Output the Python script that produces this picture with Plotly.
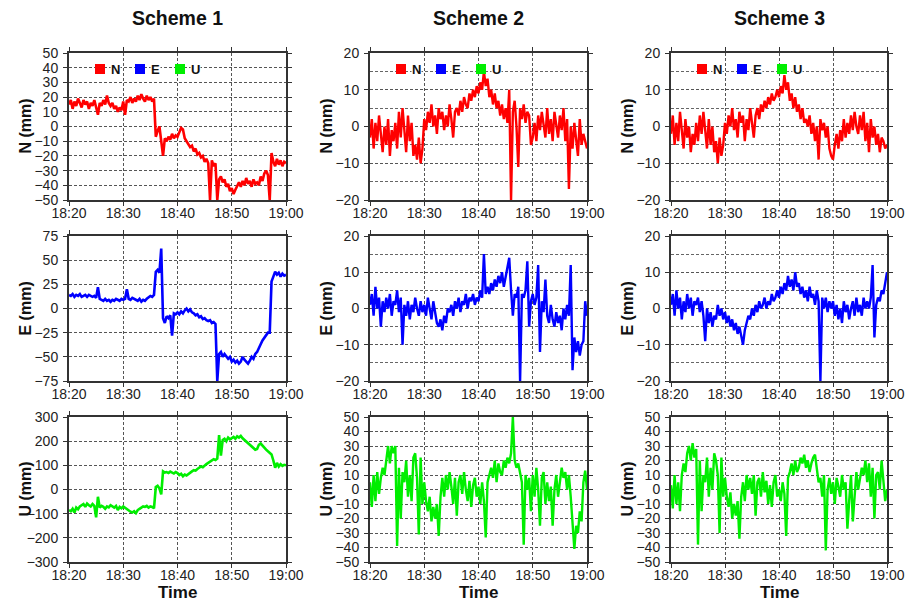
import plotly.graph_objects as go

# ---------------- data ----------------
SCHEMES = ["Scheme 1", "Scheme 2", "Scheme 3"]
COMPONENTS = ["N", "E", "U"]
TIME_TICKVALS = [0, 10, 20, 30, 40]          # minutes after 18:20
TIME_TICKTEXT = ["18:20", "18:30", "18:40", "18:50", "19:00"]
t_min = [i / 3 for i in range(121)]          # 20-second samples, 18:20 -> 19:00

S1_N = [15, 18, 12, 17, 14, 19, 16, 13, 18, 15, 17, 12, 16, 14, 18,
        12, 8, 16, 14, 18, 15, 21, 16, 14, 16, 12, 14, 10, 13, 11,
        17, 8, 18, 17, 20, 16, 19, 17, 21, 18, 22, 19, 17, 21, 18,
        20, 17, 19, -7, -3, 0, -10, -20, -8, -10, -7, -9, -5, -8, -6,
        -7, -4, -1, -2, -8, -10, -12, -14, -13, -17, -15, -19, -18, -21, -20,
        -24, -22, -25, -50, -23, -27, -25, -50, -36, -34, -38, -36, -41, -39, -44,
        -42, -46, -43, -40, -38, -41, -37, -40, -35, -39, -37, -41, -36, -39, -38,
        -40, -34, -37, -32, -30, -33, -50, -18, -24, -27, -22, -26, -23, -27, -24, -25]
S1_E = [14, 13, 15, 12, 14, 13, 15, 12, 13, 14, 12, 14, 13, 12, 13,
        11, 22, 10, 9, 8, 10, 8, 9, 7, 9, 8, 10, 9, 8, 10,
        9, 10, 20, 10, 9, 11, 10, 9, 8, 10, 7, 9, 8, 10, 12,
        13, 12, 14, 38, 40, 37, 62, -10, -15, -8, -10, -7, -28, -5, -6,
        -4, -6, -3, -5, -2, 0, -3, -1, -4, -5, -7, -6, -9, -8, -11,
        -10, -12, -13, -12, -15, -14, -16, -75, -47, -45, -50, -47, -49, -52, -50,
        -55, -53, -56, -54, -57, -55, -50, -53, -55, -57, -54, -50, -52, -47, -45,
        -40, -37, -33, -30, -28, -25, -25, 28, 33, 38, 35, 37, 33, 36, 34, 35]
S1_U = [-85, -90, -80, -95, -75, -82, -70, -65, -60, -72, -58, -65, -70, -60, -68,
        -115, -30, -75, -68, -72, -80, -70, -74, -65, -70, -75, -68, -85, -72, -78,
        -70, -76, -82, -88, -92, -95, -90, -98, -85, -80, -75, -70, -72, -68, -75,
        -70, -72, -78, 10, 15, 5, -20, 75, 70, 72, 68, 74, 70, 66, 72,
        68, 60, 65, 55, 62, 58, 65, 70, 75, 80, 78, 85, 90, 95, 92,
        100, 105, 110, 115, 120, 125, 122, 128, 225, 140, 205, 210, 200, 215, 208,
        212, 218, 210, 220, 215, 222, 212, 205, 200, 195, 185, 178, 170, 165, 168,
        185, 190, 180, 172, 165, 158, 150, 145, 120, 90, 110, 95, 105, 98, 102, 100]

S2_N = [-3, 2, -6, 1, -4, 3, -2, -7, 0, -5, 2, -8, -1, -4, 1,
        -6, 4, -3, 5, -2, -7, 3, -4, 1, -8, -5, -9, -3, -10, -6,
        2, -1, 4, 1, 6, 0, 3, -2, 5, 2, 4, -1, 3, 0, 6,
        2, -3, 4, 5, 3, 7, 4, 8, 6, 5, 9, 7, 10, 8, 11,
        9, 12, 10, 15, 11, 13, 8, 10, 6, 9, 5, 7, 3, 6, 2,
        5, 1, 10, -20, 4, 7, 0, -11, 5, 2, 6, 1, 4, 3, -5,
        -3, 1, -4, 3, -1, 4, 0, -3, 5, -2, 2, -4, 4, 0, -3,
        3, -1, 5, -4, 2, -17, 0, -6, 1, -3, -8, 2, -5, -2, -4, -6]
S2_E = [1, 4, -2, 6, 0, 3, -5, 2, -1, 3, 0, 4, -2, 2, 1,
        5, -1, 3, -10, 1, -2, 2, -3, 1, -1, 3, 0, -2, 2, -1,
        1, -2, 3, 0, -3, 2, -1, -4, -5, -3, -6, -2, -4, 0, -1,
        1, -2, 2, 0, 3, -1, 2, 1, 4, 0, 3, 2, 4, 1, 3,
        2, 5, 3, 15, 4, 6, 4, 7, 5, 8, 6, 9, 7, 10, 6,
        9, 11, 14, 5, -2, 4, 3, 6, -20, 4, 3, 5, 13, -5, 2,
        4, 1, 3, 12, -12, 2, -1, 8, -2, -4, 1, -3, -5, -1, -4,
        -2, -6, 0, -3, 1, -2, 12, -17, -8, -12, -9, -13, -10, -9, 2, -2]
S2_U = [5, -12, 10, -8, 12, -3, 8, 15, 10, 22, 30, 18, 30, 25, 30,
        -39, 15, -20, 12, 5, 20, -5, 10, -8, 22, 25, 8, -31, 22, -10,
        5, -8, -15, -5, -22, -12, -20, -10, -32, -5, 8, -5, 10, 0, 12,
        2, -10, 8, -18, 5, 10, -3, 12, 0, -8, 6, -12, 3, 8, -5,
        2, -10, 5, -8, -33, 5, 10, 15, 8, 20, 5, 18, 12, 10, 20,
        15, 22, 18, 25, 50, 20, 15, 18, 12, 5, -38, 10, 0, 8, -15,
        10, -5, 15, 0, -25, 8, 12, -10, 5, -8, 2, -25, 0, 10, -5,
        5, 15, 8, 12, 0, 10, -5, -20, -41, -25, -30, -15, -22, 5, 13, 0]

S3_N = [-2, 3, -5, 1, -4, 4, -1, -6, 2, -3, 0, -7, -2, -5, 1,
        -4, 3, -2, 4, -1, -6, 2, -5, 0, -7, -4, -10, -3, -8, -5,
        1, -2, 3, 0, 5, -1, 2, -3, 4, 1, 3, -4, 2, -1, 5,
        1, -3, 3, 5, 2, 6, 4, 7, 5, 8, 6, 9, 7, 8, 10,
        8, 11, 9, 14, 10, 12, 7, 9, 5, 8, 4, 6, 2, 5, 1,
        2, 0, 3, -2, 1, -4, 0, -9, 2, -1, 1, -3, 0, -6, -8,
        -9, -5, -2, -6, -1, -4, 2, -3, 1, -2, 3, -1, 4, 0, -2,
        3, -1, 4, -4, 1, -7, 2, -3, 0, -5, -2, -7, -3, -4, -6, -5]
S3_E = [1, 4, -2, 5, 0, 3, -3, 2, -1, 4, 0, 3, -2, 2, 1,
        3, -1, 2, -2, -9, 0, -4, -1, -5, -2, -3, 1, -2, 0, -3,
        -1, -4, -2, -5, -3, -6, -4, -7, -5, -8, -10, -6, -4, -2, -3,
        0, -2, 1, -1, 2, 0, 1, 3, 0, 2, 1, 4, 2, 3, 5,
        3, 6, 4, 7, 5, 9, 6, 8, 5, 10, 6, 7, 4, 6, 3,
        5, 2, 6, 3, 4, 1, 5, 2, -20, 3, 0, 3, -1, 2, 0,
        2, -2, 1, -3, 0, -4, 2, -1, 1, -3, 0, 2, -2, 3, -1,
        1, -2, 3, 0, 2, 0, 3, 12, -8, 1, 3, 2, 5, 4, 7, 10]
S3_U = [3, -13, 10, -10, 5, -15, 10, 18, 12, 25, 30, 20, 32, 22, 28,
        -38, 20, -15, 10, 5, 22, -5, 15, 0, 25, 20, 10, -30, 22, -5,
        8, -5, -12, -2, -20, -10, -18, -8, -34, -5, 5, -8, 10, 0, 8,
        -3, 10, -18, 5, 8, -5, 12, -2, 6, -10, 3, -12, 5, 10, -5,
        0, -8, 5, -3, -32, 8, 12, 18, 10, 20, 12, 15, 22, 18, 24,
        15, 20, 12, 18, 22, 24, 15, 5, 8, -5, 10, -42, 0, 8, -3,
        5, -10, 8, 2, -5, 10, 0, 5, -27, -8, 10, -22, -5, 12, 0,
        8, 15, 10, 20, 5, 18, -5, 15, -20, 10, 12, 0, 20, 8, -8, 0]

SERIES = [[S1_N, S2_N, S3_N], [S1_E, S2_E, S3_E], [S1_U, S2_U, S3_U]]
Y_RANGES = [[(-50, 50, 10), (-20, 20, 10), (-20, 20, 10)],
            [(-75, 75, 25), (-20, 20, 10), (-20, 20, 10)],
            [(-300, 300, 100), (-50, 50, 10), (-50, 50, 10)]]
COLORS = {"N": "#ff0000", "E": "#0000ff", "U": "#00ee00"}

# ---------------- layout geometry (pixels) ----------------
W, H = 907, 602
COL_X = [(69, 286), (370, 587), (671, 887)]
ROW_Y = [(53, 200), (236, 381), (417, 562)]
FONT = "Liberation Sans, Arial, Helvetica, sans-serif"

def px(x):
    return x / W

def py(y):
    return 1 - y / H

fig = go.Figure()
layout = dict(width=W, height=H,
              margin=dict(l=0, r=0, t=0, b=0, pad=0, autoexpand=False),
              paper_bgcolor="white", plot_bgcolor="white", showlegend=False,
              font=dict(family=FONT, size=14, color="#222"))
annotations = []
shapes = []

GRID = dict(showgrid=True, gridcolor="#555", gridwidth=0.8, griddash="3px,2px")
FRAME = dict(showline=True, linewidth=2, linecolor="#333", mirror="ticks",
             ticks="outside", ticklen=4, tickwidth=1, tickcolor="#333",
             zeroline=False, tickfont=dict(size=14, color="#222"),
             automargin=False)

for r in range(3):
    comp = COMPONENTS[r]
    for c in range(3):
        k = r * 3 + c + 1
        xa = "x" if k == 1 else f"x{k}"
        ya = "y" if k == 1 else f"y{k}"
        xkey = "xaxis" if k == 1 else f"xaxis{k}"
        ykey = "yaxis" if k == 1 else f"yaxis{k}"
        lw = 2.6 if c == 0 else 2.4
        fig.add_trace(go.Scatter(x=t_min, y=SERIES[r][c], mode="lines",
                                 line=dict(color=COLORS[comp], width=lw),
                                 xaxis=xa, yaxis=ya, name=comp, hoverinfo="skip"))
        lo, hi, dt = Y_RANGES[r][c]
        x0, x1 = COL_X[c]
        y0, y1 = ROW_Y[r]
        layout[xkey] = dict(domain=[px(x0), px(x1)], anchor=ya, range=[0, 40],
                            tickvals=TIME_TICKVALS, ticktext=TIME_TICKTEXT,
                            ticklabelstandoff=-5, **FRAME, **GRID)
        yax = dict(domain=[py(y1), py(y0)], anchor=xa, range=[lo, hi], dtick=dt, tick0=0,
                   ticklabelstandoff=2, **FRAME, **GRID)
        if (hi - lo) == 40:
            yax["minor"] = dict(dtick=5, tick0=0, showgrid=True, gridcolor="#666",
                                gridwidth=0.8, griddash="3px,2px", ticks="")
        layout[ykey] = yax

        # y-axis title
        annotations.append(dict(text=f"<b>{comp} (mm)</b>", xref="paper", yref="paper",
                                x=px(x0 - 44), y=py((y0 + y1) / 2), showarrow=False,
                                textangle=-90, font=dict(size=16, color="#111"),
                                xanchor="center", yanchor="middle"))
        if r == 2:
            annotations.append(dict(text="<b>Time</b>", xref="paper", yref="paper",
                                    x=px((x0 + x1) / 2), y=py(592), showarrow=False,
                                    font=dict(size=17, color="#111"),
                                    xanchor="center", yanchor="middle"))
        if r == 0:
            annotations.append(dict(text=f"<b>{SCHEMES[c]}</b>", xref="paper", yref="paper",
                                    x=px((x0 + x1) / 2), y=py(18), showarrow=False,
                                    font=dict(size=19.5, color="#111"),
                                    xanchor="center", yanchor="middle"))
            # legend (N, E, U colour keys)
            for j, name in enumerate(COMPONENTS):
                sx = x0 + 26 + 40 * j
                shapes.append(dict(type="rect", xref="paper", yref="paper",
                                   x0=px(sx), x1=px(sx + 10), y0=py(74), y1=py(64),
                                   fillcolor=COLORS[name], line=dict(width=0), layer="above"))
                annotations.append(dict(text=f"<b>{name}</b>", xref="paper", yref="paper",
                                        x=px(sx + 15), y=py(69), showarrow=False,
                                        xanchor="left", yanchor="middle",
                                        font=dict(size=13, color="#111"),
                                        bgcolor="white", borderpad=0))

layout["annotations"] = annotations
layout["shapes"] = shapes
fig.update_layout(**layout)
fig.write_html("out.html")
